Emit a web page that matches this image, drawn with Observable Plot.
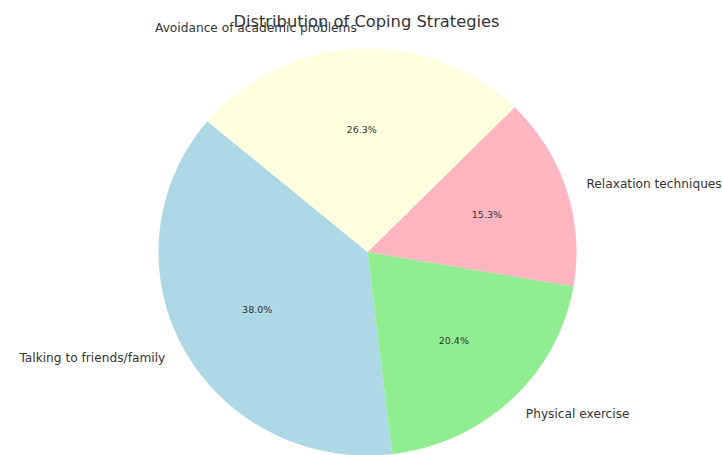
<!DOCTYPE html>
<html>
<head>
<meta charset="utf-8">
<script src="https://cdn.jsdelivr.net/npm/d3@7"></script>
<script src="https://cdn.jsdelivr.net/npm/@observablehq/plot@0.6"></script>
<style>
  body { margin: 0; background: #fff; }
  svg { display: block; }
</style>
</head>
<body>
<div id="chart"></div>
<script>
const labels = ["Talking to friends/family", "Physical exercise", "Relaxation techniques", "Avoidance of academic problems"];
const values = [38.0, 20.4, 15.3, 26.3];
const colors = ["#add8e6", "#90ee90", "#ffb6c1", "#ffffe0"];
const title = "Distribution of Coping Strategies";
const startAngle = 140;

const total = d3.sum(values);
let acc = startAngle;
const slices = values.map((v, i) => {
  const a0 = acc, a1 = acc + 360 * v / total;
  acc = a1;
  const mid = (a0 + a1) / 2 * Math.PI / 180;
  return {label: labels[i], value: v, a0, a1, mid, cos: Math.cos(mid), sin: Math.sin(mid)};
});

const pts = [];
slices.forEach(s => {
  pts.push({label: s.label, x: 0, y: 0});
  const n = Math.max(2, Math.ceil(s.a1 - s.a0) * 2);
  for (let k = 0; k <= n; k++) {
    const a = (s.a0 + (s.a1 - s.a0) * k / n) * Math.PI / 180;
    pts.push({label: s.label, x: Math.cos(a), y: Math.sin(a)});
  }
});

const chart = Plot.plot({
  width: 722,
  height: 455,
  margin: 0,
  style: {background: "#fff", fontFamily: "DejaVu Sans, sans-serif"},
  x: {domain: [-1, 1], range: [158, 576], axis: null},
  y: {domain: [-1, 1], range: [455, 48], axis: null},
  color: {domain: labels, range: colors},
  marks: [
    Plot.line(pts, {x: "x", y: "y", z: "label", fill: "label", stroke: "none", curve: "linear"}),
    Plot.text(slices, {x: d => 0.6 * d.cos, y: d => 0.6 * d.sin, text: d => d.value.toFixed(1) + "%", fontSize: 9.5, fill: "#333"}),
    Plot.text(slices.filter(d => d.cos < 0), {x: d => 1.1 * d.cos, y: d => 1.1 * d.sin, text: "label", textAnchor: "end", fontSize: 12.2, fill: "#333"}),
    Plot.text(slices.filter(d => d.cos >= 0), {x: d => 1.1 * d.cos, y: d => 1.1 * d.sin, text: "label", textAnchor: "start", fontSize: 12.2, fill: "#333"}),
    Plot.text([title], {frameAnchor: "top", lineAnchor: "middle", dy: 21, dx: 5, fontSize: 16.3, fill: "#333", text: d => d})
  ]
});
document.getElementById("chart").appendChild(chart);
</script>
</body>
</html>
